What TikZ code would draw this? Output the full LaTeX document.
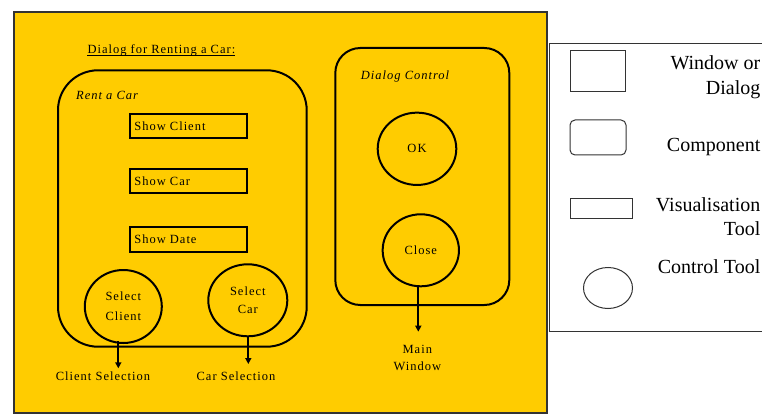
\documentclass[tikz,border=0pt]{standalone}
\usepackage{fontspec}
\setmainfont{Liberation Serif}
\newfontfamily\diagfont[LetterSpace=8]{Liberation Serif}
\usetikzlibrary{shapes.geometric,arrows.meta,calc}
\definecolor{panelyellow}{HTML}{FFCC00}
\definecolor{edgegray}{HTML}{333333}
\begin{document}
\begin{tikzpicture}[x=1pt,y=-1pt,
  dtext/.style={font=\diagfont\fontsize{12.5}{15}\selectfont, inner sep=0pt},
  ditalic/.style={font=\diagfont\itshape\fontsize{12.5}{15}\selectfont, inner sep=0pt},
  heavy/.style={draw=black, line width=2pt},
  boxnode/.style={heavy, rectangle, inner sep=0pt, anchor=north west},
  viewtool/.style={heavy, rectangle, minimum width=117.3pt, minimum height=24.6pt,
    inner xsep=4.3pt, inner ysep=0pt, text width=108.7pt, align=left, anchor=north west,
    font=\diagfont\fontsize{12.5}{15}\selectfont},
  ctrltool/.style={heavy, ellipse, inner sep=0pt, align=center},
  flow/.style={line width=2pt, -{Triangle[width=6pt,length=6pt]}},
  legline/.style={draw=edgegray, line width=1pt, inner sep=0pt},
  legtext/.style={font=\fontsize{20}{25}\selectfont, inner sep=0pt, text=black},
]
\useasboundingbox (0,0) rectangle (762,414);
\clip (0,0) rectangle (762,414);

% dialog window
\node[boxnode, draw=edgegray, fill=panelyellow, minimum width=533.3pt, minimum height=400.5pt] (window) at (13,11) {};

% legend panel
\node[legline, fill=white, anchor=north west, minimum width=240pt, minimum height=288pt] (legend) at (549,43) {};

% title
\node[dtext, anchor=base west] (title) at (87.3,53.3) {Dialog for Renting a Car:};
\draw[line width=0.8pt] ([yshift=-1.8pt]title.base west) -- ([yshift=-1.8pt]title.base east);

% components
\node[boxnode, rounded corners=40pt, minimum width=248.7pt, minimum height=276.4pt] (rentcar) at (57,69.3) {};
\node[boxnode, rounded corners=25pt, minimum width=174pt, minimum height=257pt] (dlgctrl) at (334.3,47) {};
\node[ditalic, anchor=base west] (rentlbl) at (76,100) {Rent a Car};
\node[ditalic, anchor=base west] (dlglbl) at (360.7,80) {Dialog Control};

% visualisation tools
\node[viewtool] (showclient) at (129,112.7) {Show Client};
\node[viewtool] (showcar) at (129,167.7) {Show Car};
\node[viewtool] (showdate) at (129,226) {Show Date};

% control tools
\node[ctrltool, minimum width=77pt, minimum height=73pt,
  font=\diagfont\fontsize{12.5}{19.6}\selectfont] (selclient) at (123.3,306.5) {Select\\Client};
\node[ctrltool, minimum width=79pt, minimum height=72pt,
  font=\diagfont\fontsize{12.5}{17.3}\selectfont] (selcar) at (247.8,300.3) {Select\\Car};
\node[ctrltool, minimum width=78.6pt, minimum height=72.3pt,
  font=\diagfont\fontsize{12.5}{15}\selectfont] (ok) at (417,148.8) {OK};
\node[ctrltool, minimum width=76.3pt, minimum height=72pt,
  font=\diagfont\fontsize{12.5}{15}\selectfont] (close) at (420.8,250.3) {Close};

% outputs
\node[dtext, anchor=base] (clientout) at (103,380) {Client Selection};
\node[dtext, anchor=base] (carout) at (236,380) {Car Selection};
\node[dtext, align=center, anchor=north, font=\diagfont\fontsize{12.5}{17}\selectfont] (mainwin) at (417.3,345) {Main\\Window};

\coordinate (clienttip) at (118.3,368.3);
\coordinate (cartip) at (248.3,364);
\coordinate (closetip) at (418.3,331.7);
\draw[flow] ($(clienttip |- selclient.south)+(0,-3)$) -- (clienttip);
\draw[flow] ($(cartip |- selcar.south)+(0,-1)$) -- (cartip);
\draw[flow] ($(closetip |- close.south)+(0,-1)$) -- (closetip);

% legend entries
\node[legline, rectangle, anchor=north west, minimum width=55.7pt, minimum height=41.4pt] (lgwindow) at (569.5,49.8) {};
\node[legline, rectangle, rounded corners=5pt, anchor=north west, minimum width=56pt, minimum height=35pt] (lgcomp) at (569.5,119.5) {};
\node[legline, rectangle, anchor=north west, minimum width=62.7pt, minimum height=20.7pt] (lgview) at (569.5,197.5) {};
\node[legline, ellipse, minimum width=49pt, minimum height=41pt] (lgctrl) at (608,288) {};

\node[legtext, anchor=north east, align=right] (lbwindow) at (760.5,55.3) {Window or\\Dialog};
\node[legtext, anchor=base east] (lbcomp) at (760.5,152) {Component};
\node[legtext, anchor=north east, align=right, font=\fontsize{20}{24.3}\selectfont] (lbview) at (760.5,197) {Visualisation\\Tool};
\node[legtext, anchor=base east] (lbctrl) at (760.5,273.3) {Control Tool};
\end{tikzpicture}
\end{document}
